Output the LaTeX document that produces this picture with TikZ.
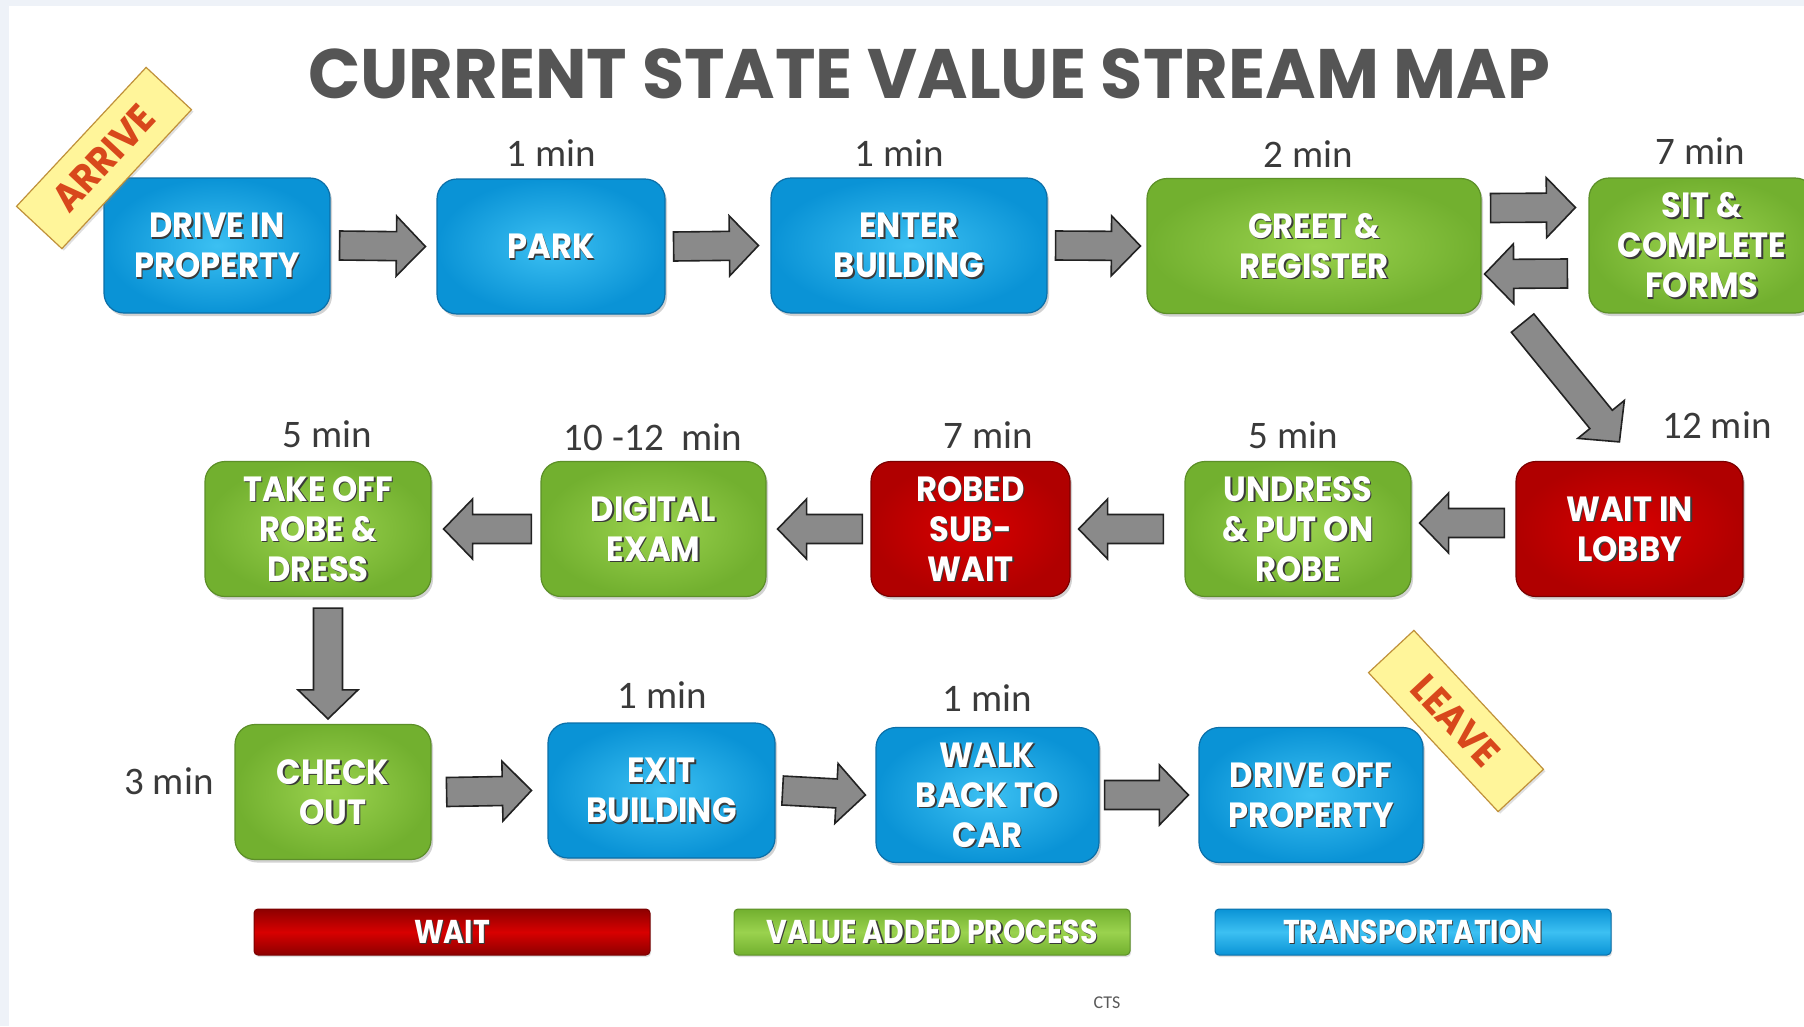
\documentclass[tikz,border=0pt]{standalone}
\usepackage{fontspec}
\usetikzlibrary{calc,shadows}

\newfontfamily\boxfont[FakeStretch=0.92]{Poppins}
\newfontfamily\titlefont[FakeStretch=0.98]{Poppins}
\newfontfamily\legendfont[FakeStretch=0.86]{Poppins}
\newfontfamily\timefont{Carlito}

\definecolor{pagebg}{HTML}{EEF2F8}
\definecolor{titlegray}{HTML}{555555}
\definecolor{timegray}{HTML}{3A3A3A}
\definecolor{boxshade}{HTML}{3A3A3A}
\definecolor{bluein}{HTML}{3CC0F2}
\definecolor{blueout}{HTML}{0A93D6}
\definecolor{blueedge}{HTML}{0B6FA8}
\definecolor{greenin}{HTML}{9AD24E}
\definecolor{greenout}{HTML}{72B02F}
\definecolor{greenedge}{HTML}{5C8F28}
\definecolor{redin}{HTML}{D80000}
\definecolor{redout}{HTML}{B00000}
\definecolor{rededge}{HTML}{7A0000}
\definecolor{arrowfill}{HTML}{8A8A8A}
\definecolor{arrowedge}{HTML}{222222}
\definecolor{tagfill}{HTML}{FFF59A}
\definecolor{tagedge}{HTML}{C0913A}
\definecolor{tagtext}{HTML}{D8481C}

\tikzset{
  pbox/.style={rounded corners=20pt, minimum height=135pt, inner sep=0pt,
    line width=1.2pt,
    drop shadow={opacity=0.35, shadow xshift=2pt, shadow yshift=-3pt}},
  bluebox/.style={draw=blueedge, inner color=bluein, outer color=blueout},
  greenbox/.style={draw=greenedge, inner color=greenin, outer color=greenout},
  redbox/.style={draw=rededge, inner color=redin, outer color=redout},
  boxtext/.style={font=\boxfont\bfseries\fontsize{35}{40}\selectfont,
    text=white, align=center, inner sep=0pt},
  timelabel/.style={font=\timefont\fontsize{39}{39}\selectfont,
    text=timegray, inner sep=0pt},
  blockarrow/.style={draw=arrowedge, line width=1.6pt, line join=miter,
    fill=arrowfill},
  tag/.style={draw=tagedge, line width=1.2pt, fill=tagfill, text=tagtext,
    font=\boxfont\bfseries\fontsize{39}{39}\selectfont, inner sep=0pt,
    minimum width=190pt, minimum height=62pt,
    drop shadow={opacity=0.25, shadow xshift=2pt, shadow yshift=-2pt}},
  legendbar/.style={rounded corners=4pt, minimum height=46pt, inner sep=0pt,
    minimum width=396pt, line width=1pt,
    drop shadow={opacity=0.25, shadow xshift=1pt, shadow yshift=-2pt}},
  legred/.style={draw=rededge, top color=redout!80!black, bottom color=redout!80!black,
    middle color=redin},
  leggreen/.style={draw=greenedge, top color=greenout, bottom color=greenout,
    middle color=greenin},
  legblue/.style={draw=blueedge, top color=blueout, bottom color=blueout,
    middle color=bluein},
  legtext/.style={font=\legendfont\bfseries\fontsize{33}{33}\selectfont,
    text=white, inner sep=0pt},
}

% process box: name, centre x, centre y, width, colour style, label
\newcommand\procbox[6]{%
  \node[pbox,#5,minimum width=#4pt] (#1) at (#2,#3) {};
  \node[boxtext,text=boxshade] (#1-sh) at ([xshift=1.5pt,yshift=-1.5pt]#1.center) {#6};
  \node[boxtext] (#1-tx) at (#1.center) {#6};}

% legend bar: name, centre x, colour style, label
\newcommand\legendentry[4]{%
  \node[legendbar,#3] (#1) at (#2,932) {};
  \node[legtext,text=boxshade] (#1-sh) at ([xshift=1.2pt,yshift=-1.2pt]#1.center) {#4};
  \node[legtext] (#1-tx) at (#1.center) {#4};}

% wide block arrow from one named coordinate to another
\newcommand\blockarrow[2]{%
  \draw[blockarrow]
    ($(#1)!14.5pt!90:(#2)$) --
    ($(#2)!29pt!(#1)!14.5pt!-90:(#1)$) --
    ($(#2)!29pt!(#1)!30pt!-90:(#1)$) --
    (#2) --
    ($(#2)!29pt!(#1)!30pt!90:(#1)$) --
    ($(#2)!29pt!(#1)!14.5pt!90:(#1)$) --
    ($(#1)!14.5pt!-90:(#2)$) -- cycle;}

\begin{document}
\begin{tikzpicture}[x=1pt,y=-1pt]
\useasboundingbox (0,0) rectangle (1804,1026);
\fill[pagebg] (0,0) rectangle (1804,1026);
\fill[white] (9,6) rectangle (1804,1026);
\clip (0,0) rectangle (1804,1026);

% title
\node[font=\titlefont\bfseries\fontsize{70}{70}\selectfont, text=titlegray,
  anchor=base, inner sep=0pt] (title) at (929,98) {CURRENT STATE VALUE STREAM MAP};

% first row
\procbox{drivein}{217}{245.5}{226}{bluebox}{DRIVE IN\\PROPERTY}
\procbox{park}{551}{246.5}{228}{bluebox}{PARK}
\procbox{enter}{909}{245.5}{276}{bluebox}{ENTER\\BUILDING}
\procbox{greet}{1314}{246}{334}{greenbox}{GREET \&\\REGISTER}
\procbox{sit}{1702}{245.5}{226}{greenbox}{SIT \&\\COMPLETE\\FORMS}

% second row
\procbox{takeoff}{318}{529}{226}{greenbox}{TAKE OFF\\ROBE \&\\DRESS}
\procbox{digital}{653.5}{529}{225}{greenbox}{DIGITAL\\EXAM}
\procbox{robed}{970.5}{529}{199}{redbox}{ROBED\\SUB-\\WAIT}
\procbox{undress}{1298}{529}{226}{greenbox}{UNDRESS\\\& PUT ON\\ROBE}
\procbox{wait}{1629.5}{529}{227}{redbox}{WAIT IN\\LOBBY}

% third row
\procbox{checkout}{333}{792}{196}{greenbox}{CHECK\\OUT}
\procbox{exit}{661.5}{790.5}{227}{bluebox}{EXIT\\BUILDING}
\procbox{walk}{987.5}{795}{223}{bluebox}{WALK\\BACK TO\\CAR}
\procbox{driveoff}{1311}{795}{224}{bluebox}{DRIVE OFF\\PROPERTY}

% durations
\node[timelabel] (t-park) at (551,153) {1 min};
\node[timelabel] (t-enter) at (899,153) {1 min};
\node[timelabel] (t-greet) at (1308,154) {2 min};
\node[timelabel] (t-sit) at (1700,151) {7 min};
\node[timelabel] (t-takeoff) at (327,434) {5 min};
\node[timelabel] (t-digital) at (653,437) {10 -12\ \ min};
\node[timelabel] (t-robed) at (988,435) {7 min};
\node[timelabel] (t-undress) at (1293,435) {5 min};
\node[timelabel] (t-wait) at (1717,425) {12 min};
\node[timelabel] (t-checkout) at (169,781) {3 min};
\node[timelabel] (t-exit) at (662,695) {1 min};
\node[timelabel] (t-walk) at (987,698) {1 min};

% arrow end points
\coordinate (a1s) at ([xshift=9pt]drivein.east);
\coordinate (a1e) at ([xshift=-11pt]park.west);
\coordinate (a2s) at ([xshift=8pt]park.east);
\coordinate (a2e) at ([xshift=-12pt]enter.west);
\coordinate (a3s) at ([xshift=8pt]enter.east);
\coordinate (a3e) at ([xshift=-6pt]greet.west);
\coordinate (a4s) at ([xshift=9pt,yshift=38pt]greet.east);
\coordinate (a4e) at ([xshift=-13pt,yshift=38pt]sit.west);
\coordinate (a5s) at ([xshift=-21pt,yshift=-28pt]sit.west);
\coordinate (a5e) at ([xshift=3pt,yshift=-28pt]greet.east);
\coordinate (a6s) at ([xshift=41pt,yshift=-9pt]greet.south east);
\coordinate (a6e) at ([xshift=104pt,yshift=19pt]wait.north west);
\coordinate (b1s) at ([xshift=-11pt,yshift=6pt]wait.west);
\coordinate (b1e) at ([xshift=8pt,yshift=6pt]undress.east);
\coordinate (b2s) at ([xshift=-21pt]undress.west);
\coordinate (b2e) at ([xshift=8pt]robed.east);
\coordinate (b3s) at ([xshift=-8pt]robed.west);
\coordinate (b3e) at ([xshift=11pt]digital.east);
\coordinate (b4s) at ([xshift=-9pt]digital.west);
\coordinate (b4e) at ([xshift=12pt]takeoff.east);
\coordinate (dns) at ([xshift=10pt,yshift=-11pt]takeoff.south);
\coordinate (dne) at ([xshift=-5pt,yshift=5pt]checkout.north);
\coordinate (c1s) at ([xshift=15pt]checkout.east);
\coordinate (c1e) at ([xshift=-16pt]exit.west);
\coordinate (c2s) at ([xshift=7pt]exit.east);
\coordinate (c2e) at ([xshift=-10pt]walk.west);
\coordinate (c3s) at ([xshift=5pt]walk.east);
\coordinate (c3e) at ([xshift=-10pt]driveoff.west);

\blockarrow{a1s}{a1e}
\blockarrow{a2s}{a2e}
\blockarrow{a3s}{a3e}
\blockarrow{a4s}{a4e}
\blockarrow{a5s}{a5e}
\blockarrow{a6s}{a6e}
\blockarrow{b1s}{b1e}
\blockarrow{b2s}{b2e}
\blockarrow{b3s}{b3e}
\blockarrow{b4s}{b4e}
\blockarrow{dns}{dne}
\blockarrow{c1s}{c1e}
\blockarrow{c2s}{c2e}
\blockarrow{c3s}{c3e}

% start and end tags
\node[tag, rotate=47] (arrive) at (104,158) {ARRIVE};
\node[tag, rotate=-47] (leave) at (1456,721) {LEAVE};

% legend
\legendentry{lgwait}{452}{legred}{WAIT}
\legendentry{lgvalue}{932}{leggreen}{VALUE ADDED PROCESS}
\legendentry{lgtrans}{1413}{legblue}{TRANSPORTATION}

\node[font=\timefont\fontsize{18}{18}\selectfont, text=black!65, inner sep=0pt]
  (credit) at (1107,1003) {CTS};
\end{tikzpicture}
\end{document}
